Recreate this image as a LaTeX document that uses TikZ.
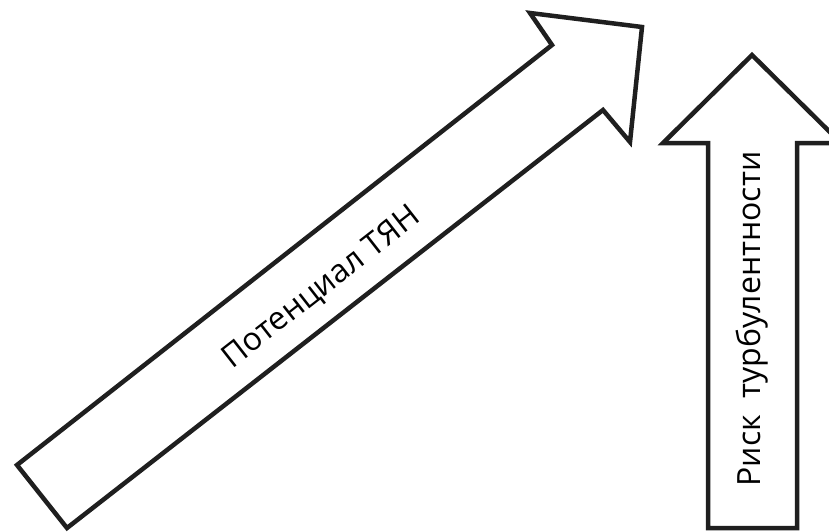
\documentclass[tikz,border=0pt]{standalone}
\usepackage{fontspec}
\setmainfont{Open Sans}
\begin{document}
\begin{tikzpicture}[x=1pt,y=-1pt,
  blockarrow/.style={draw=black!88, line width=4.5pt, line join=miter, fill=white},
  arrowtext/.style={font=\fontsize{32}{38}\selectfont, inner sep=0pt}]
\useasboundingbox (0,0) rectangle (829,531);
\clip (0,0) rectangle (829,531);
% diagonal arrow
\draw[blockarrow] (17,465) -- (552,45) -- (530,13) -- (642,27) -- (630,142)
  -- (603,110) -- (67,528) -- cycle;
% vertical arrow
\draw[blockarrow] (708,528) -- (708,143) -- (663,143) -- (752,55) -- (841,143)
  -- (797,143) -- (797,528) -- cycle;
\node[arrowtext, rotate=38] (potential) at (322,288) {Потенциал ТЯН};
\node[arrowtext, rotate=90] (risk) at (752,319) {Риск\ \ турбулентности};
\end{tikzpicture}
\end{document}
